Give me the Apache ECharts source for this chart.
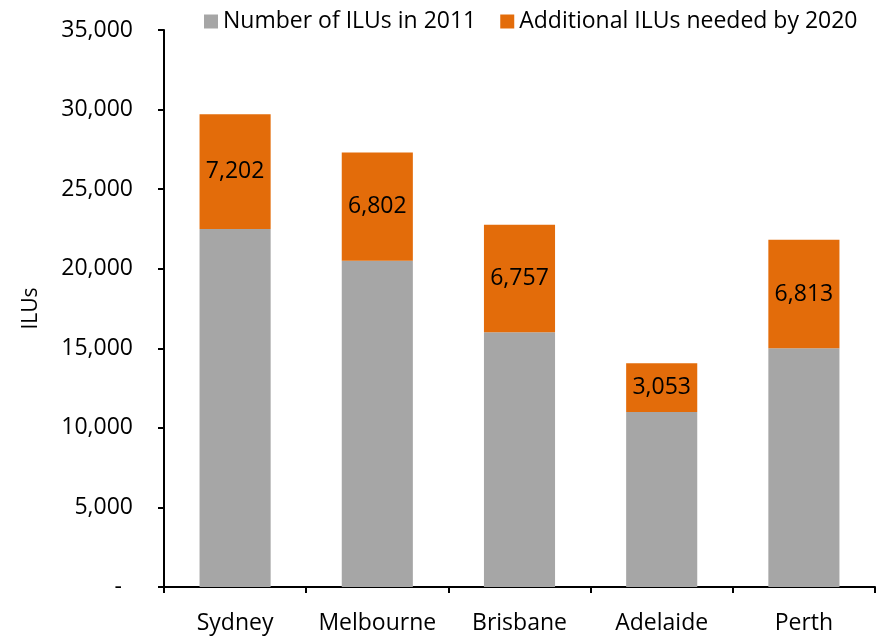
<!DOCTYPE html>
<html>
<head>
<meta charset="utf-8">
<script src="https://cdn.jsdelivr.net/npm/echarts@6/dist/echarts.min.js"></script>
<style>
  html, body { margin: 0; padding: 0; background: #fff; }
  #chart { width: 883px; height: 636px; }
</style>
</head>
<body>
<div id="chart"></div>
<script>
// Independent living units by capital city
const cities = ['Sydney', 'Melbourne', 'Brisbane', 'Adelaide', 'Perth'];
const ilus2011 = [22500, 20500, 16000, 11000, 15000];
const additional2020 = [7202, 6802, 6757, 3053, 6813];
const yTicks = [0, 5000, 10000, 15000, 20000, 25000, 30000, 35000];

const FONT = '"Open Sans", "Liberation Sans", sans-serif';
const SIZE = 23;
const fmt = v => v.toLocaleString('en-US');

const chart = echarts.init(document.getElementById('chart'), null, { renderer: 'canvas' });
chart.setOption({
  animation: false,
  textStyle: { fontFamily: FONT, color: '#000' },
  legend: {
    top: 5,
    left: 199,
    itemWidth: 14,
    itemHeight: 14,
    itemGap: 24,
    textStyle: { fontFamily: FONT, fontSize: SIZE, color: '#000' },
    data: [
      { name: 'Number of ILUs in 2011', icon: 'rect' },
      { name: 'Additional ILUs needed by 2020', icon: 'rect' }
    ]
  },
  grid: { left: 164, right: 8, top: 30, bottom: 49 },
  xAxis: {
    type: 'category',
    data: cities,
    axisLine: { lineStyle: { color: '#000', width: 2 } },
    axisTick: { show: true, length: 6, lineStyle: { color: '#000', width: 2 } },
    axisLabel: { interval: 0, fontFamily: FONT, fontSize: SIZE, color: '#000', margin: 25 }
  },
  yAxis: {
    type: 'value',
    min: yTicks[0],
    max: yTicks[yTicks.length - 1],
    interval: 5000,
    name: 'ILUs',
    nameLocation: 'middle',
    nameRotate: 90,
    nameGap: 122,
    nameTextStyle: { fontFamily: FONT, fontSize: 21, color: '#000' },
    axisLine: { show: true, lineStyle: { color: '#000', width: 2 } },
    axisTick: { show: true, length: 6, lineStyle: { color: '#000', width: 2 } },
    splitLine: { show: false },
    axisLabel: {
      fontFamily: FONT, fontSize: SIZE, color: '#000', margin: 31,
      formatter: v => v === 0 ? '{z|-}' : fmt(v),
      rich: { z: { fontFamily: FONT, fontSize: SIZE, color: '#000', padding: [0, 11, 0, 0] } }
    }
  },
  series: [
    {
      name: 'Number of ILUs in 2011',
      type: 'bar',
      stack: 'total',
      barWidth: '50%',
      itemStyle: { color: '#A6A6A6' },
      data: ilus2011
    },
    {
      name: 'Additional ILUs needed by 2020',
      type: 'bar',
      stack: 'total',
      barWidth: '50%',
      itemStyle: { color: '#E36C0A' },
      label: {
        show: true,
        position: 'inside',
        fontFamily: FONT,
        fontSize: SIZE,
        color: '#000',
        formatter: p => fmt(p.value)
      },
      data: additional2020
    }
  ]
});
</script>
</body>
</html>
